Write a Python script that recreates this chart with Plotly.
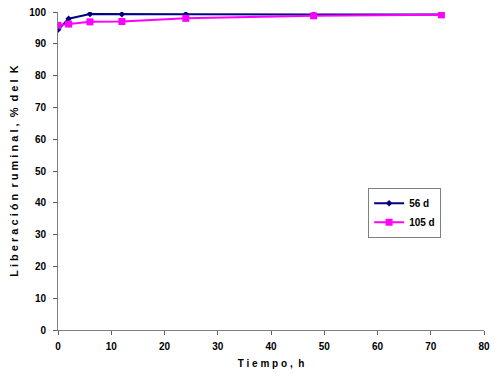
import plotly.graph_objects as go

time_h = [0, 2, 6, 12, 24, 48, 72]
lib_56d = [94.4, 97.9, 99.4, 99.3, 99.3, 99.2, 99.2]
lib_105d = [95.8, 96.2, 96.9, 97.0, 98.0, 98.8, 99.1]

fig = go.Figure()
fig.add_trace(go.Scatter(x=time_h, y=lib_56d, name="56 d", mode="lines+markers",
                         line=dict(color="#000080", width=2),
                         marker=dict(symbol="diamond", size=5, color="#000080")))
fig.add_trace(go.Scatter(x=time_h, y=lib_105d, name="105 d", mode="lines+markers",
                         line=dict(color="#FF00FF", width=2),
                         marker=dict(symbol="square", size=7, color="#FF00FF")))

ff = "Liberation Sans, Arial"
fig.update_layout(
    width=495, height=381,
    margin=dict(l=58, r=11, t=12, b=51, autoexpand=False),
    plot_bgcolor="white", paper_bgcolor="white",
    font=dict(family=ff, size=10, color="black"),
    showlegend=True,
    legend=dict(x=0.728, y=0.447, xanchor="left", yanchor="top",
                bordercolor="#808080", borderwidth=1, bgcolor="white",
                font=dict(family=ff, size=10, color="black", weight="bold"),
                itemwidth=30, tracegroupgap=4),
    xaxis=dict(range=[0, 80], tickvals=list(range(0, 81, 10)), showgrid=False, zeroline=False,
               automargin=False, ticklabeloverflow="allow",
               showline=True, linecolor="#808080", linewidth=1, ticks="outside", ticklen=4,
               tickcolor="#606060", ticklabelstandoff=3,
               tickfont=dict(family=ff, size=10, weight="bold"),
               title=dict(text="T i e m p o ,  h", standoff=8,
                          font=dict(family=ff, size=10, weight="bold"))),
    yaxis=dict(range=[0, 100], tickvals=list(range(0, 101, 10)), showgrid=False, zeroline=False,
               automargin=False, ticklabeloverflow="allow",
               showline=True, linecolor="#808080", linewidth=1, ticks="outside", ticklen=4,
               tickcolor="#606060", ticklabelstandoff=5,
               tickfont=dict(family=ff, size=10, weight="bold"),
               title=dict(text="L i b e r a c i ó n  r u m i n a l ,  %  d e l  K", standoff=8,
                          font=dict(family=ff, size=11, weight="bold"))),
)
fig.write_html("out.html", config={"displayModeBar": False},
               post_script="document.body.style.margin='0';document.body.style.overflow='hidden';")
